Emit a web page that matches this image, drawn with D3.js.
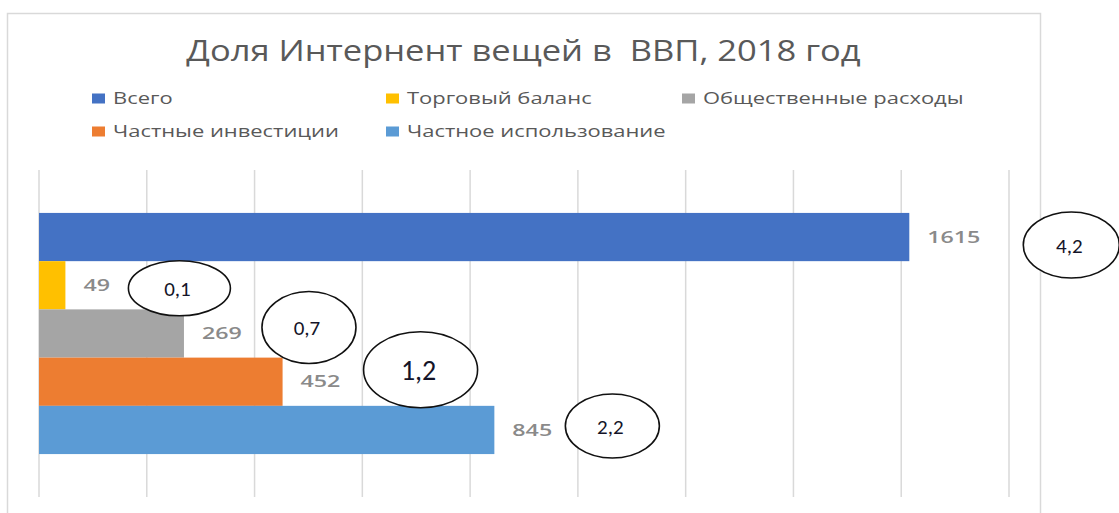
<!DOCTYPE html>
<html><head><meta charset="utf-8">
<script src="https://cdn.jsdelivr.net/npm/d3@7"></script>
<style>body{margin:0;background:#fff}svg{display:block}</style>
</head><body>
<svg id="c" width="1119" height="513"></svg>
<script>
const title = "Доля Интернент вещей в  ВВП, 2018 год";
const series = ["Всего", "Торговый баланс", "Общественные расходы", "Частные инвестиции", "Частное использование"];
const values = [1615, 49, 269, 452, 845];
const colors = ["#4472C4", "#FFC000", "#A5A5A5", "#ED7D31", "#5B9BD5"];
const tickValues = [0, 200, 400, 600, 800, 1000, 1200, 1400, 1600, 1800];
const annotations = ["4,2", "0,1", "0,7", "1,2", "2,2"];
// annotation layout (pixel offsets from bar end / band centre)
const annLayout = [
  {dx: 162, dy: 8, rx: 48, ry: 33, fs: 21},
  {dx: 114, dy: 3, rx: 51, ry: 27.5, fs: 21},
  {dx: 125, dy: -6, rx: 47, ry: 36, fs: 21},
  {dx: 138, dy: -12, rx: 57, ry: 38, fs: 28},
  {dx: 118, dy: -4, rx: 47, ry: 32, fs: 21}
];
const legendCols = [0, 1, 2, 0, 1];
const legendRows = [0, 0, 0, 1, 1];

const svg = d3.select("#c");

// chart frame
svg.append("rect").attr("x", 7.5).attr("y", 13.5).attr("width", 1033).attr("height", 520)
  .attr("fill", "#fff").attr("stroke", "#d9d9d9").attr("stroke-width", 1.5);

const x = d3.scaleLinear().domain([0, 1800]).range([39, 1009]);
const y = d3.scaleBand().domain(series).range([170, 497]).paddingInner(0).paddingOuter(0.89);

// gridlines
svg.append("g").selectAll("line").data(tickValues).join("line")
  .attr("x1", d => x(d)).attr("x2", d => x(d))
  .attr("y1", 170).attr("y2", 497)
  .attr("stroke", "#d9d9d9").attr("stroke-width", 1.5);

// bars
svg.append("g").selectAll("rect").data(series).join("rect")
  .attr("x", x(0)).attr("y", d => y(d))
  .attr("width", (d, i) => x(values[i]) - x(0))
  .attr("height", y.bandwidth())
  .attr("fill", (d, i) => colors[i]);

function stretch(sel, k) {
  sel.each(function() {
    const w = this.getComputedTextLength();
    d3.select(this).attr("textLength", w * k).attr("lengthAdjust", "spacingAndGlyphs");
  });
}
// data labels
svg.append("g").selectAll("text").data(series).join("text")
  .attr("x", (d, i) => x(values[i]) + 18)
  .attr("y", d => y(d) + y.bandwidth() / 2)
  .attr("dy", "0.36em")
  .attr("font-family", "'Open Sans', sans-serif").attr("font-weight", 600)
  .attr("font-size", 16).attr("fill", "#8a8a8a")
  .text((d, i) => values[i])
  .call(stretch, 1.45);

// annotations
const ag = svg.append("g");
series.forEach((s, i) => {
  const L = annLayout[i];
  const cx = x(values[i]) + L.dx, cy = y(s) + y.bandwidth() / 2 + L.dy;
  ag.append("ellipse").attr("cx", cx).attr("cy", cy).attr("rx", L.rx).attr("ry", L.ry)
    .attr("fill", "#fff").attr("stroke", "#111").attr("stroke-width", 1.6);
  ag.append("text").attr("x", cx - 2).attr("y", cy).attr("dy", "0.36em")
    .attr("text-anchor", "middle")
    .attr("font-family", "Carlito, 'Liberation Sans Narrow', Roboto, sans-serif")
    .attr("font-size", L.fs).attr("fill", "#141428")
    .text(annotations[i]);
});

// title
svg.append("text").attr("x", 523.5).attr("y", 61).attr("text-anchor", "middle")
  .style("white-space", "pre").attr("xml:space", "preserve")
  .attr("font-family", "'Open Sans', sans-serif").attr("font-size", 29).attr("fill", "#595959")
  .text(title).call(stretch, 1.19);

// legend
const colX = [92, 386, 682], rowY = [98.5, 131.5];
const lg = svg.append("g");
series.forEach((s, i) => {
  const lx = colX[legendCols[i]], ly = rowY[legendRows[i]];
  lg.append("rect").attr("x", lx).attr("y", ly - 5).attr("width", 13).attr("height", 10).attr("fill", colors[i]);
  lg.append("text").attr("x", lx + 21).attr("y", ly).attr("dy", "0.36em")
    .attr("font-family", "'Open Sans', sans-serif").attr("font-size", 16).attr("fill", "#595959")
    .text(s).call(stretch, 1.37);
});
</script>
</body></html>
